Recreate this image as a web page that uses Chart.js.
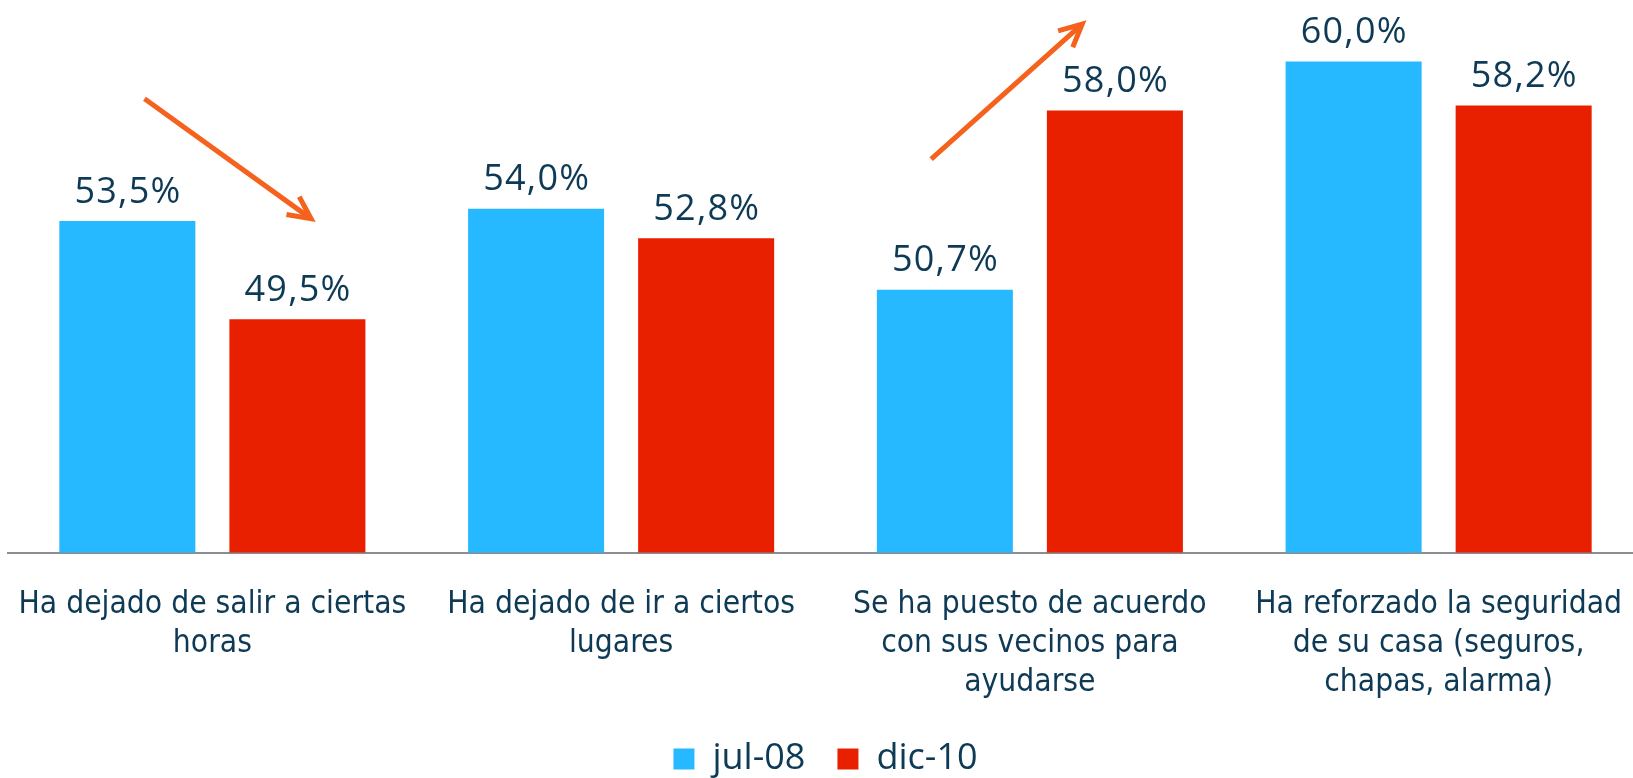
<!DOCTYPE html>
<html>
<head>
<meta charset="utf-8">
<script src="https://cdn.jsdelivr.net/npm/chart.js@4/dist/chart.umd.min.js"></script>
<style>
  html, body { margin: 0; padding: 0; background: #ffffff; overflow: hidden; }
  #wrap { position: relative; width: 1645px; height: 778px; }
</style>
</head>
<body>
<div id="wrap"><canvas id="c"></canvas></div>
<script>
// ---- data ----
const categories = [
  ["Ha dejado de salir a ciertas", "horas"],
  ["Ha dejado de ir a ciertos", "lugares"],
  ["Se ha puesto de acuerdo", "con sus vecinos para", "ayudarse"],
  ["Ha reforzado la seguridad", "de su casa (seguros,", "chapas, alarma)"]
];
const seriesNames = ["jul-08", "dic-10"];
const jul08 = [53.5, 54.0, 50.7, 60.0];
const dic10 = [49.5, 52.8, 58.0, 58.2];
// trend arrows, in data units: category index + fraction of a category, value on the y scale
const arrowCats = [0, 2];
const arrowFrom = [[-0.166, 58.48], [-0.2415, 56.02]];
const arrowTo   = [[0.2415, 53.59], [0.128, 61.52]];

const BLUE = "#27B9FF";
const RED = "#E82000";
const TEXT = "#0E3A55";
const ORANGE = "#F5621E";

function fmt(v) { return v.toFixed(1).replace(".", ",") + "%"; }

const valueLabels = {
  id: "valueLabels",
  afterDatasetsDraw(chart) {
    const ctx = chart.ctx;
    ctx.save();
    ctx.font = "36px 'Open Sans'";
    ctx.letterSpacing = "1.2px";
    ctx.fillStyle = TEXT;
    ctx.textAlign = "center";
    ctx.textBaseline = "alphabetic";
    chart.data.datasets.forEach((ds, di) => {
      const meta = chart.getDatasetMeta(di);
      meta.data.forEach((bar, i) => {
        ctx.fillText(fmt(ds.data[i]), bar.x + 0.6, bar.y - 18.5);
      });
    });
    ctx.restore();
  }
};

const arrows = {
  id: "arrows",
  afterDraw(chart) {
    const ctx = chart.ctx;
    const xs = chart.scales.x, ys = chart.scales.y;
    const catW = xs.getPixelForValue(1) - xs.getPixelForValue(0);
    ctx.save();
    ctx.strokeStyle = ORANGE;
    ctx.lineWidth = 5;
    ctx.lineCap = "butt";
    ctx.lineJoin = "miter";
    arrowCats.forEach((c, k) => {
      const cx = xs.getPixelForValue(c);
      const x0 = cx + arrowFrom[k][0] * catW, y0 = ys.getPixelForValue(arrowFrom[k][1]);
      const x1 = cx + arrowTo[k][0] * catW, y1 = ys.getPixelForValue(arrowTo[k][1]);
      const ang = Math.atan2(y1 - y0, x1 - x0);
      const hl = 25, ha = 26 * Math.PI / 180;
      ctx.beginPath();
      ctx.moveTo(x0, y0);
      ctx.lineTo(x1 - 2 * Math.cos(ang), y1 - 2 * Math.sin(ang));
      ctx.stroke();
      ctx.beginPath();
      ctx.moveTo(x1 - hl * Math.cos(ang - ha), y1 - hl * Math.sin(ang - ha));
      ctx.lineTo(x1, y1);
      ctx.lineTo(x1 - hl * Math.cos(ang + ha), y1 - hl * Math.sin(ang + ha));
      ctx.stroke();
    });
    ctx.restore();
  }
};

new Chart(document.getElementById("c"), {
  type: "bar",
  data: {
    labels: categories,
    datasets: [
      { label: seriesNames[0], data: jul08, backgroundColor: BLUE, borderWidth: 0,
        categoryPercentage: 0.832, barPercentage: 0.8 },
      { label: seriesNames[1], data: dic10, backgroundColor: RED, borderWidth: 0,
        categoryPercentage: 0.832, barPercentage: 0.8 }
    ]
  },
  options: {
    responsive: true,
    maintainAspectRatio: false,
    animation: false,
    layout: { padding: { left: 8, right: 2, top: 0, bottom: -9 } },
    plugins: {
      legend: {
        display: true,
        position: "bottom",
        labels: {
          font: { family: "'Open Sans'", size: 36 },
          color: TEXT,
          boxWidth: 21,
          boxHeight: 21,
          padding: 32
        }
      },
      tooltip: { enabled: false }
    },
    scales: {
      x: {
        grid: { display: false, drawTicks: false },
        border: { display: true, color: "#8A8D92", width: 2 },
        ticks: {
          color: TEXT,
          font: { family: "'DejaVu Sans Condensed', 'DejaVu Sans'", size: 31.5, lineHeight: "39.3px" },
          padding: 32.5,
          maxRotation: 0,
          autoSkip: false
        },
        afterFit(scale) {
          scale.height = 156.5;
          scale.paddingLeft = 0;
          scale.paddingRight = 0;
        }
      },
      y: {
        display: false,
        min: 40,
        max: 62.5
      }
    }
  },
  plugins: [valueLabels, arrows]
});
</script>
</body>
</html>
